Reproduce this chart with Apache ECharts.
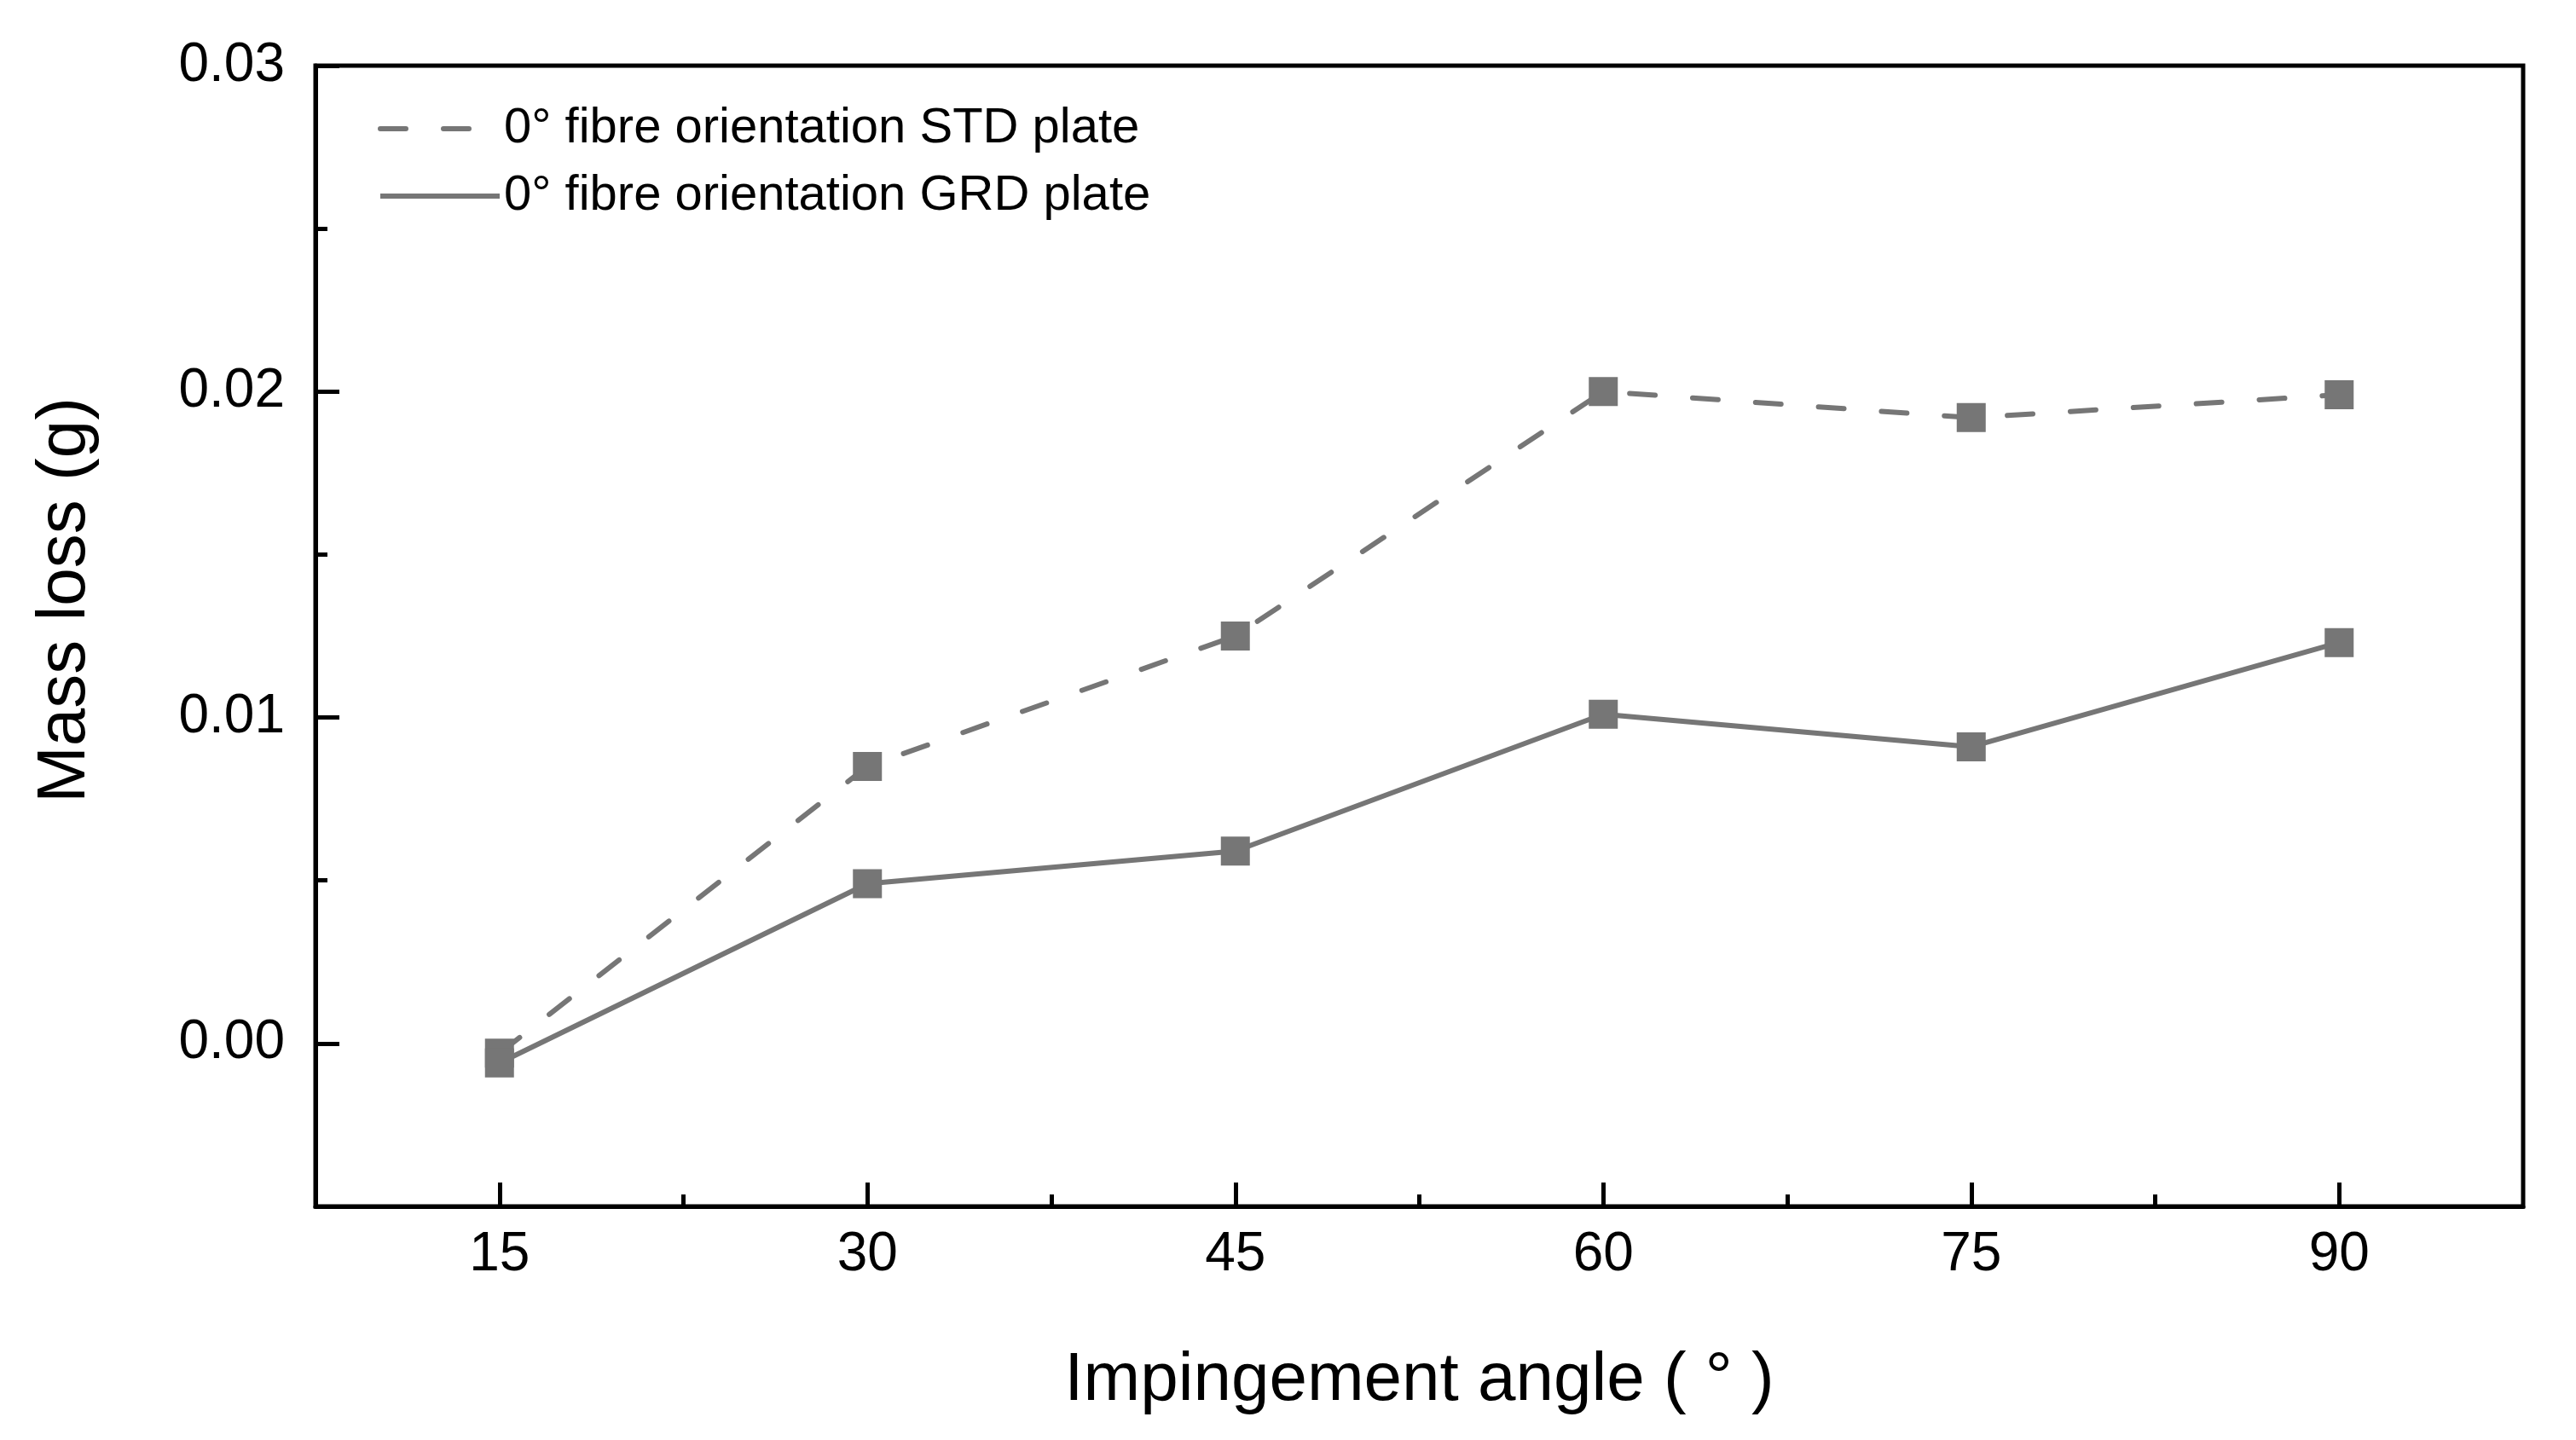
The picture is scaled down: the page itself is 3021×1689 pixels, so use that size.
<!DOCTYPE html>
<html>
<head>
<meta charset="utf-8">
<script src="https://cdn.jsdelivr.net/npm/echarts@6/dist/echarts.min.js"></script>
<style>html,body{margin:0;padding:0;background:#fff}#c{width:3021px;height:1689px}</style>
</head>
<body>
<div id="c"></div>
<script>
// ---- data ----
const angles = [15, 30, 45, 60, 75, 90];                 // x categories / tick labels
const minorX = [22.5, 37.5, 52.5, 67.5, 82.5];           // x minor tick positions
const yTicks = [0, 0.01, 0.02, 0.03];                    // y tick labels
const minorY = [0.005, 0.015, 0.025];                    // y minor tick positions
const stdLoss = [-0.0003, 0.0085, 0.0125, 0.0200, 0.0192, 0.0199];
const grdLoss = [-0.0006, 0.0049, 0.0059, 0.0101, 0.0091, 0.0123];
const stdName = '0\u00B0 fibre orientation STD plate';
const grdName = '0\u00B0 fibre orientation GRD plate';

const FONT = "'Liberation Sans', Arial, sans-serif";
const GREY = '#767676';

const chart = echarts.init(document.getElementById('c'), null, {renderer: 'canvas'});
const baseX = {type: 'value', min: 7.5, max: 97.5, gridIndex: 0, splitLine: {show: false}};
const baseY = {type: 'value', min: -0.005, max: 0.03, gridIndex: 0, splitLine: {show: false}};

chart.setOption({
  animation: false,
  backgroundColor: '#fff',
  textStyle: {fontFamily: FONT},
  grid: {left: 370, right: 62, top: 77, bottom: 274, show: true, borderColor: '#000', borderWidth: 5, containLabel: false},
  legend: {
    orient: 'vertical', left: 438, top: 116,
    itemWidth: 140, itemHeight: 20, itemGap: 19,
    itemStyle: {opacity: 0},
    lineStyle: {width: 6},
    textStyle: {fontFamily: FONT, fontSize: 58, lineHeight: 60, color: '#000'},
    data: [stdName, grdName]
  },
  xAxis: [
    Object.assign({}, baseX, {
      position: 'bottom',
      name: 'Impingement angle ( \u00B0 )', nameLocation: 'middle', nameGap: 165,
      nameTextStyle: {fontFamily: FONT, fontSize: 80, lineHeight: 80, color: '#000'},
      axisLine: {show: true, onZero: false, lineStyle: {color: '#000', width: 5}},
      axisTick: {show: true, inside: true, length: 28, customValues: angles, lineStyle: {color: '#000', width: 5}},
      axisLabel: {show: true, customValues: angles, margin: 25, fontFamily: FONT, fontSize: 64, lineHeight: 64, color: '#000'}
    }),
    Object.assign({}, baseX, {
      position: 'bottom', offset: 0,
      axisLine: {show: false, onZero: false},
      axisTick: {show: true, inside: true, length: 14, customValues: minorX, lineStyle: {color: '#000', width: 5}},
      axisLabel: {show: false}
    })
  ],
  yAxis: [
    Object.assign({}, baseY, {
      position: 'left',
      name: 'Mass loss (g)', nameLocation: 'middle', nameGap: 253,
      nameTextStyle: {fontFamily: FONT, fontSize: 80, lineHeight: 80, color: '#000', padding: [0, 0, 0, 84]},
      axisLine: {show: true, onZero: false, lineStyle: {color: '#000', width: 5}},
      axisTick: {show: true, inside: true, length: 28, customValues: yTicks, lineStyle: {color: '#000', width: 5}},
      axisLabel: {show: true, customValues: yTicks, margin: 36, fontFamily: FONT, fontSize: 64, color: '#000',
                  formatter: v => v.toFixed(2)}
    }),
    Object.assign({}, baseY, {
      position: 'left', offset: 0,
      axisLine: {show: false, onZero: false},
      axisTick: {show: true, inside: true, length: 14, customValues: minorY, lineStyle: {color: '#000', width: 5}},
      axisLabel: {show: false}
    })
  ],
  series: [
    {
      name: stdName, type: 'line', xAxisIndex: 0, yAxisIndex: 0,
      data: angles.map((a, i) => [a, stdLoss[i]]),
      symbol: 'rect', symbolSize: 34,
      itemStyle: {color: GREY},
      lineStyle: {color: GREY, width: 6, type: [30, 44], cap: 'round'}
    },
    {
      name: grdName, type: 'line', xAxisIndex: 0, yAxisIndex: 0,
      data: angles.map((a, i) => [a, grdLoss[i]]),
      symbol: 'rect', symbolSize: 34,
      itemStyle: {color: GREY},
      lineStyle: {color: GREY, width: 6, type: 'solid'}
    }
  ]
});
</script>
</body>
</html>
